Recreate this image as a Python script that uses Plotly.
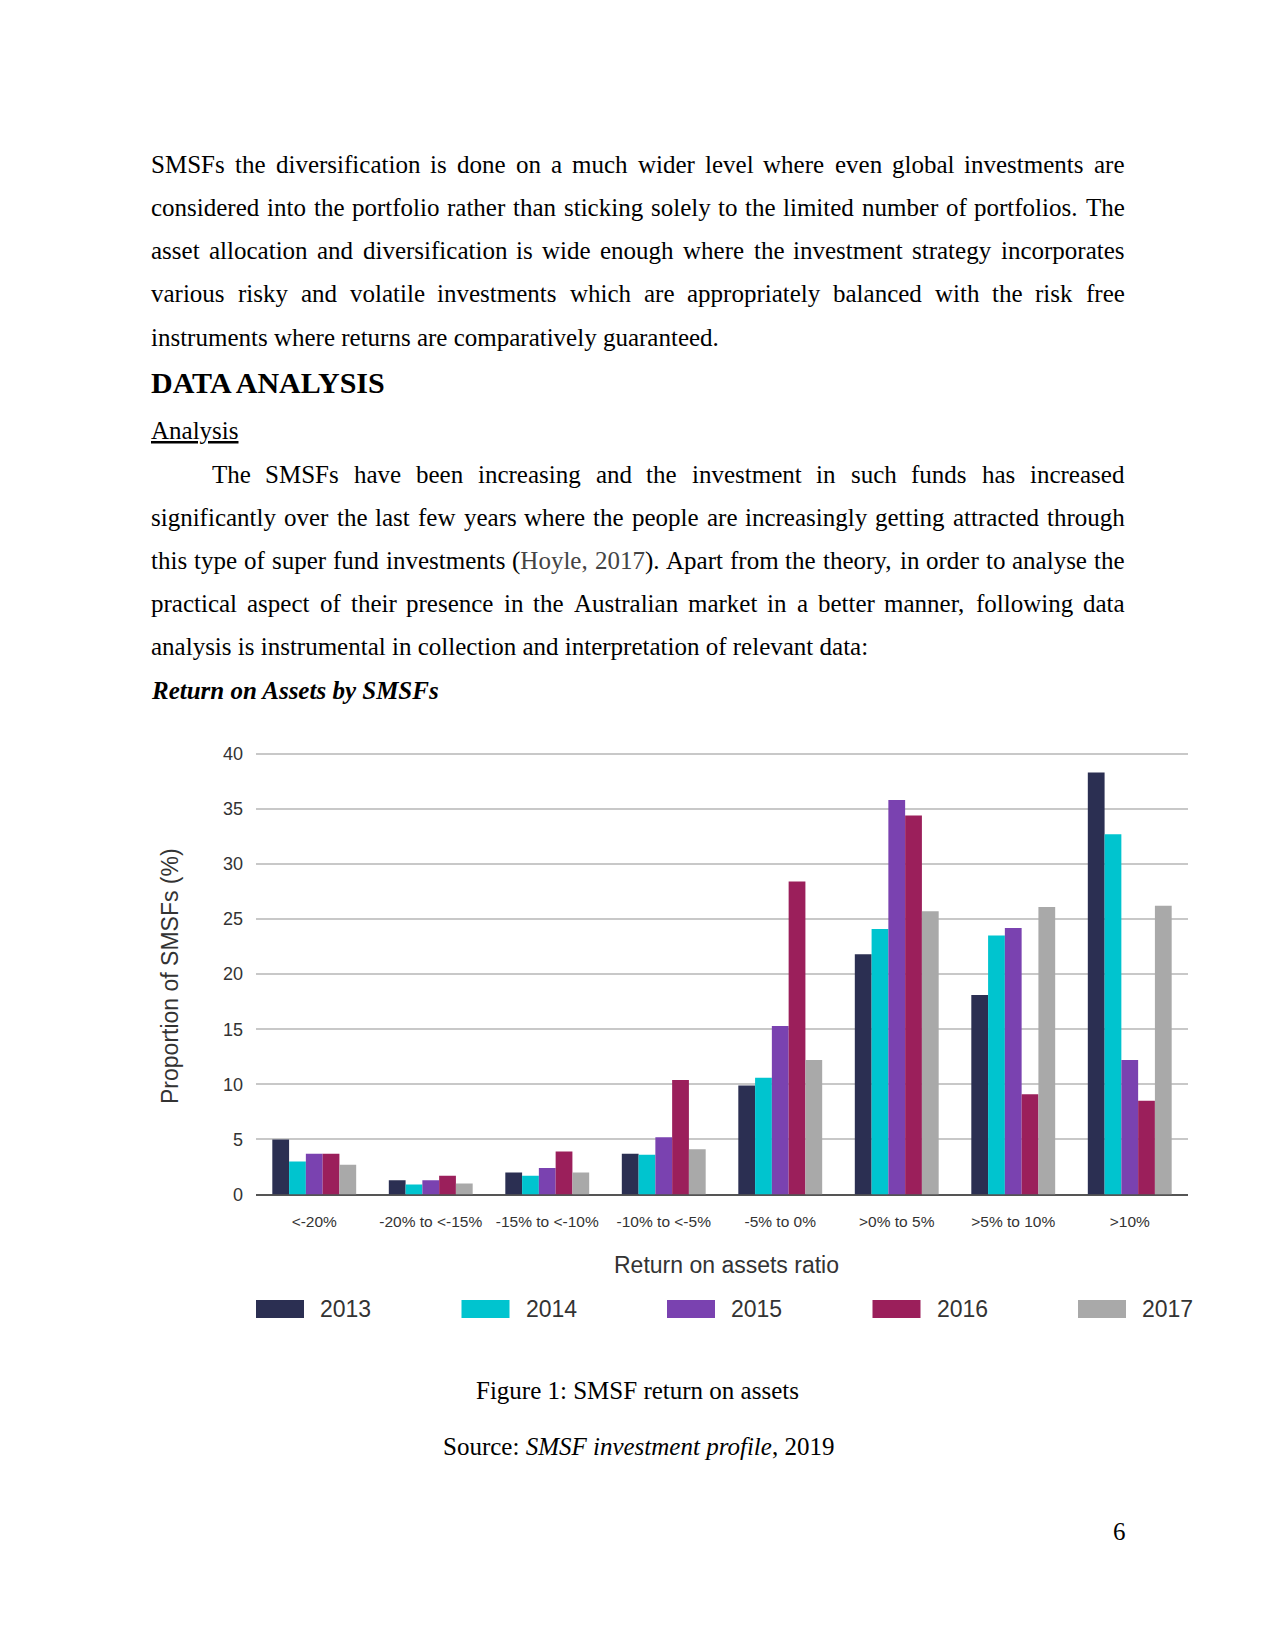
import plotly.graph_objects as go

W, H = 1275, 1650
OX = 8  # browser body margin compensation

# ---------------- data ----------------
categories = ["<-20%", "-20% to <-15%", "-15% to <-10%", "-10% to <-5%",
              "-5% to 0%", ">0% to 5%", ">5% to 10%", ">10%"]
years = ["2013", "2014", "2015", "2016", "2017"]
v2013 = [5.0, 1.3, 2.0, 3.7, 9.9, 21.8, 18.1, 38.3]
v2014 = [3.0, 0.9, 1.7, 3.6, 10.6, 24.1, 23.5, 32.7]
v2015 = [3.7, 1.3, 2.4, 5.2, 15.3, 35.8, 24.2, 12.2]
v2016 = [3.7, 1.7, 3.9, 10.4, 28.4, 34.4, 9.1, 8.5]
v2017 = [2.7, 1.0, 2.0, 4.1, 12.2, 25.7, 26.1, 26.2]
series = [v2013, v2014, v2015, v2016, v2017]
colors = ["#2b2f52", "#00c4cf", "#7a42b0", "#9b1f5b", "#a9a9a9"]
y_ticks = [0, 5, 10, 15, 20, 25, 30, 35, 40]

para1 = [
    "SMSFs the diversification is done on a much wider level where even global investments are",
    "considered into the portfolio rather than sticking solely to the limited number of portfolios. The",
    "asset allocation and diversification is wide enough where the investment strategy incorporates",
    "various risky and volatile investments which are appropriately balanced with the risk free",
    "instruments where returns are comparatively guaranteed.",
]
para2 = [
    "The SMSFs have been increasing and the investment in such funds has increased",
    "significantly over the last few years where the people are increasingly getting attracted through",
    "this type of super fund investments (Hoyle, 2017). Apart from the theory, in order to analyse the",
    "practical aspect of their presence in the Australian market in a better manner, following data",
    "analysis is instrumental in collection and interpretation of relevant data:",
]

# Times / Liberation Serif advance widths (1/1000 em)
TW = {' ': 250, '(': 333, ')': 333, ',': 250, '-': 333, '.': 250, ':': 278, ';': 278,
      'A': 722, 'B': 667, 'C': 667, 'D': 722, 'E': 611, 'F': 556, 'G': 722, 'H': 722, 'I': 333,
      'J': 389, 'K': 722, 'L': 611, 'M': 889, 'N': 722, 'O': 722, 'P': 556, 'Q': 722, 'R': 667,
      'S': 556, 'T': 611, 'U': 722, 'V': 722, 'W': 944, 'X': 722, 'Y': 722, 'Z': 611,
      'a': 444, 'b': 500, 'c': 444, 'd': 500, 'e': 444, 'f': 333, 'g': 500, 'h': 500, 'i': 278,
      'j': 278, 'k': 500, 'l': 278, 'm': 778, 'n': 500, 'o': 500, 'p': 500, 'q': 500, 'r': 333,
      's': 389, 't': 278, 'u': 500, 'v': 500, 'w': 722, 'x': 500, 'y': 500, 'z': 444}


def tw(s, size):
    return sum(TW.get(c, 500) for c in s) / 1000.0 * size


def PX(x):
    return (x - OX) / W


def PY(y):
    return 1 - y / H


fig = go.Figure()
for yr, vals, col in zip(years, series, colors):
    fig.add_trace(go.Bar(name=yr, x=categories, y=vals, marker=dict(color=col, line=dict(width=0)),
                         showlegend=False))

SERIF = "Liberation Serif, Times New Roman, serif"
SANS = "Liberation Sans, Arial, sans-serif"


def txt(x, y, text, size=25, anchor="left", family=SERIF, color="black", angle=0):
    fig.add_annotation(x=PX(x), y=PY(y), xref="paper", yref="paper", text=text,
                       showarrow=False, xanchor=anchor, yanchor="middle", borderpad=0,
                       textangle=angle, font=dict(family=family, size=size, color=color))


def justify(line, y, x0=150.4, x1=1123.5, size=25):
    words = line.split(" ")
    widths = [tw(w, size) for w in words]
    gap = (x1 - x0 - sum(widths)) / (len(words) - 1)
    cx = x0
    for w, wd in zip(words, widths):
        t = w
        if w == "(Hoyle,":
            t = "(<span style='color:#444444'>Hoyle,</span>"
        elif w == "2017).":
            t = "<span style='color:#444444'>2017</span>)."
        txt(cx, y, t)
        cx += wd + gap


LH = 43.6
y0 = 151
for i, line in enumerate(para1):
    y = y0 + i * LH
    if i < len(para1) - 1:
        justify(line, y)
    else:
        txt(150.4, y, line)

txt(150.4, 371.5, "<b>DATA ANALYSIS</b>", size=30)
txt(150.4, 420, "<u>Analysis</u>")

y1 = 464
for i, line in enumerate(para2):
    y = y1 + i * LH
    x0 = 210.5 if i == 0 else 150.4
    if i < len(para2) - 1:
        justify(line, y, x0=x0)
    else:
        txt(x0, y, line)

txt(150.4, 682.4, "<b><i>Return on Assets by SMSFs</i></b>")

# chart labels
txt(170, 971, "Proportion of SMSFs (%)", size=23, anchor="center", family=SANS, color="#333333", angle=-90)
txt(726, 1263.5, "Return on assets ratio", size=23, anchor="center", family=SANS, color="#333333")

# custom legend
for i, (yr, col) in enumerate(zip(years, colors)):
    lx = 256 + i * 205.5
    fig.add_shape(type="rect", xref="paper", yref="paper",
                  x0=PX(lx), x1=PX(lx + 48), y0=PY(1316.5), y1=PY(1298.5),
                  fillcolor=col, line=dict(width=0))
    txt(lx + 63, 1307.5, yr, size=23, family=SANS, color="#333333")

txt(637.5, 1390, "Figure 1: SMSF return on assets", anchor="center")
txt(638, 1446.5, "Source: <i>SMSF investment profile</i>, 2019", anchor="center")
txt(1126.5, 1532, "6", anchor="right")

# plot area geometry
zero_px, top40_px = 1191.8, 746.5
y_max = 40.2
top_px = zero_px - (zero_px - top40_px) * y_max / 40

fig.update_layout(
    width=W, height=H, margin=dict(l=0, r=0, t=0, b=0),
    paper_bgcolor="white", plot_bgcolor="white",
    barmode="group", bargap=0.28, bargroupgap=0,
    xaxis=dict(domain=[PX(256), PX(1188)], tickfont=dict(family=SANS, size=15.5, color="#333333"),
               showline=False, showgrid=False, ticks="", ticklabelstandoff=16, fixedrange=True),
    yaxis=dict(domain=[PY(zero_px), PY(top_px)], range=[0, y_max], tickvals=y_ticks,
               tickfont=dict(family=SANS, size=18, color="#333333"),
               showgrid=True, gridcolor="#c8c8c8", gridwidth=1.5,
               zeroline=True, zerolinecolor="#555555", zerolinewidth=1.5,
               showline=False, ticks="", ticklabelstandoff=12),
)

fig.write_html("out.html")
